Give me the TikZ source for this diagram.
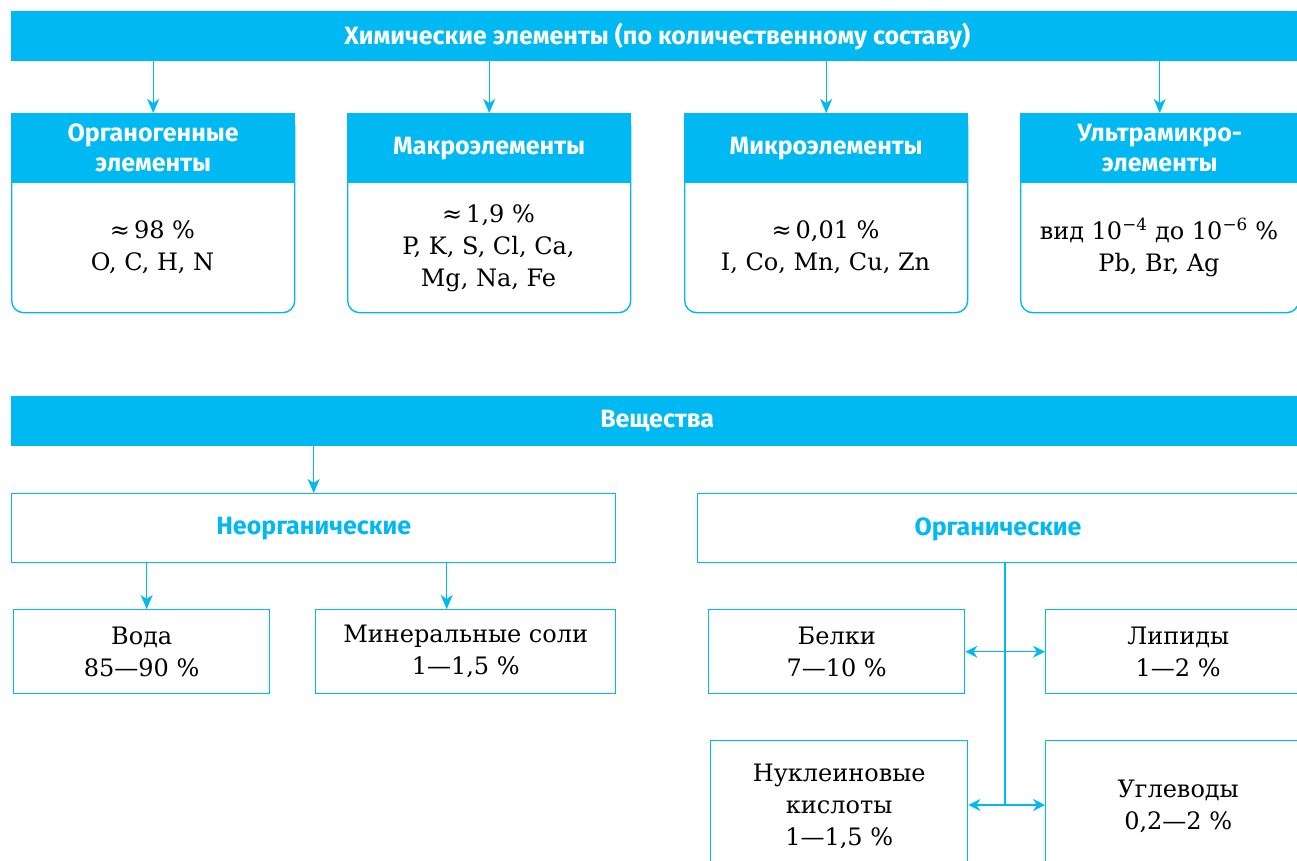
\documentclass[tikz,border=0pt]{standalone}
\usepackage{fontspec}
\setmainfont{DejaVu Serif}
\newfontfamily\hdfont{Fira Sans}
\usetikzlibrary{arrows.meta}
\definecolor{cy}{RGB}{0,185,242}
\tikzset{
  x=1pt, y=-1pt,
  conn/.style={draw=cy, line width=1.4pt, -{Stealth[length=14pt,width=12pt,inset=4pt]}},
  dconn/.style={draw=cy, line width=1.4pt, {Stealth[length=12pt,width=12pt,inset=4pt]}-{Stealth[length=12pt,width=12pt,inset=4pt]}},
  wire/.style={draw=cy, line width=1.4pt},
  hdfnt/.style={font=\hdfont\bfseries\fontsize{25}{30}\selectfont},
  banner/.style={fill=cy, draw=none, anchor=north west, inner sep=0pt, minimum height=50pt,
    text=white, hdfnt},
  outerbox/.style={draw=cy, line width=1.4pt, rounded corners=12pt, anchor=north west, inner sep=0pt,
    minimum width=283pt, minimum height=199pt},
  headbox/.style={fill=cy, draw=cy, line width=1.4pt, anchor=north west, inner sep=0pt,
    minimum width=283pt, minimum height=69pt, align=center, text=white, hdfnt},
  bodytext/.style={align=center, inner sep=0pt, font=\fontsize{24}{32}\selectfont},
  catbox/.style={draw=cy, line width=1.4pt, anchor=north west, inner sep=0pt, minimum height=69pt,
    text=cy, hdfnt},
  itembox/.style={draw=cy, line width=1.4pt, anchor=north west, inner sep=0pt, align=center,
    font=\fontsize{24}{32}\selectfont}
}
\begin{document}
\begin{tikzpicture}
\useasboundingbox (0,0) rectangle (1297,860);
\clip (0,0) rectangle (1297,860);

% ---- top section
\node[banner, minimum width=1292pt] (chem) at (11,11) {Химические элементы (по количественному составу)};

\node[outerbox] (o1) at (11,113) {};
\node[outerbox] (o2) at (347,113) {};
\node[outerbox] (o3) at (684,113) {};
\node[outerbox, minimum width=278pt] (o4) at (1020,113) {};

\node[headbox] (h1) at (11,113) {Органогенные\\элементы};
\node[headbox] (h2) at (347,113) {Макроэлементы};
\node[headbox] (h3) at (684,113) {Микроэлементы};
\node[headbox, minimum width=278pt] (h4) at (1020,113) {Ультрамикро-\\элементы};

\node[bodytext] (t1) at (152.5,247) {≈\,98~\%\\O, C, H, N};
\node[bodytext] (t2) at (488.5,248) {≈\,1,9~\%\\P, K, S, Cl, Ca,\\Mg, Na, Fe};
\node[bodytext] (t3) at (825.5,247) {≈\,0,01~\%\\I, Co, Mn, Cu, Zn};
\node[bodytext] (t4) at (1159,247) {вид 10\textsuperscript{−4} до 10\textsuperscript{−6}~\%\\Pb, Br, Ag};

\foreach \h in {h1,h2,h3,h4}
  \draw[conn] (chem.south -| \h.north) -- (\h.north);

% ---- bottom section
\node[banner, minimum width=1292pt] (sub) at (11,396) {Вещества};

\node[catbox, minimum width=604pt] (neorg) at (11,493) {Неорганические};
\node[catbox, minimum width=620pt] (org) at (697,493) {};
\node[text=cy, hdfnt, inner sep=0pt] (orgt) at (998,529) {Органические};

\draw[conn] (sub.south -| neorg.north) -- (neorg.north);

\node[itembox, minimum width=256pt, minimum height=84pt] (voda) at (13,609) {Вода\\85—90~\%};
\node[itembox, minimum width=300pt, minimum height=84pt] (min) at (315,609) {Минеральные соли\\1—1,5~\%};

\draw[conn] ([xshift=5pt]neorg.south -| voda.north) -- ([xshift=5pt]voda.north);
\draw[conn] ([xshift=-19pt]neorg.south -| min.north) -- ([xshift=-19pt]min.north);

\node[itembox, minimum width=256pt, minimum height=84pt] (bel) at (708,609) {Белки\\7—10~\%};
\node[itembox, minimum width=265pt, minimum height=84pt] (lip) at (1045,609) {Липиды\\1—2~\%};
\node[itembox, minimum width=257pt, minimum height=132pt] (nuk) at (710,740) {Нуклеиновые\\кислоты\\1—1,5~\%};
\node[itembox, minimum width=265pt, minimum height=132pt] (ugl) at (1045,740) {Углеводы\\0,2—2~\%};

\coordinate (jt) at (1005,562);
\coordinate (jb) at (1005,805);
\draw[wire] (jt) -- (jb);
\draw[dconn] (bel.east) -- (lip.west);
\draw[dconn] (nuk.east |- jb) -- (ugl.west |- jb);
\end{tikzpicture}
\end{document}
